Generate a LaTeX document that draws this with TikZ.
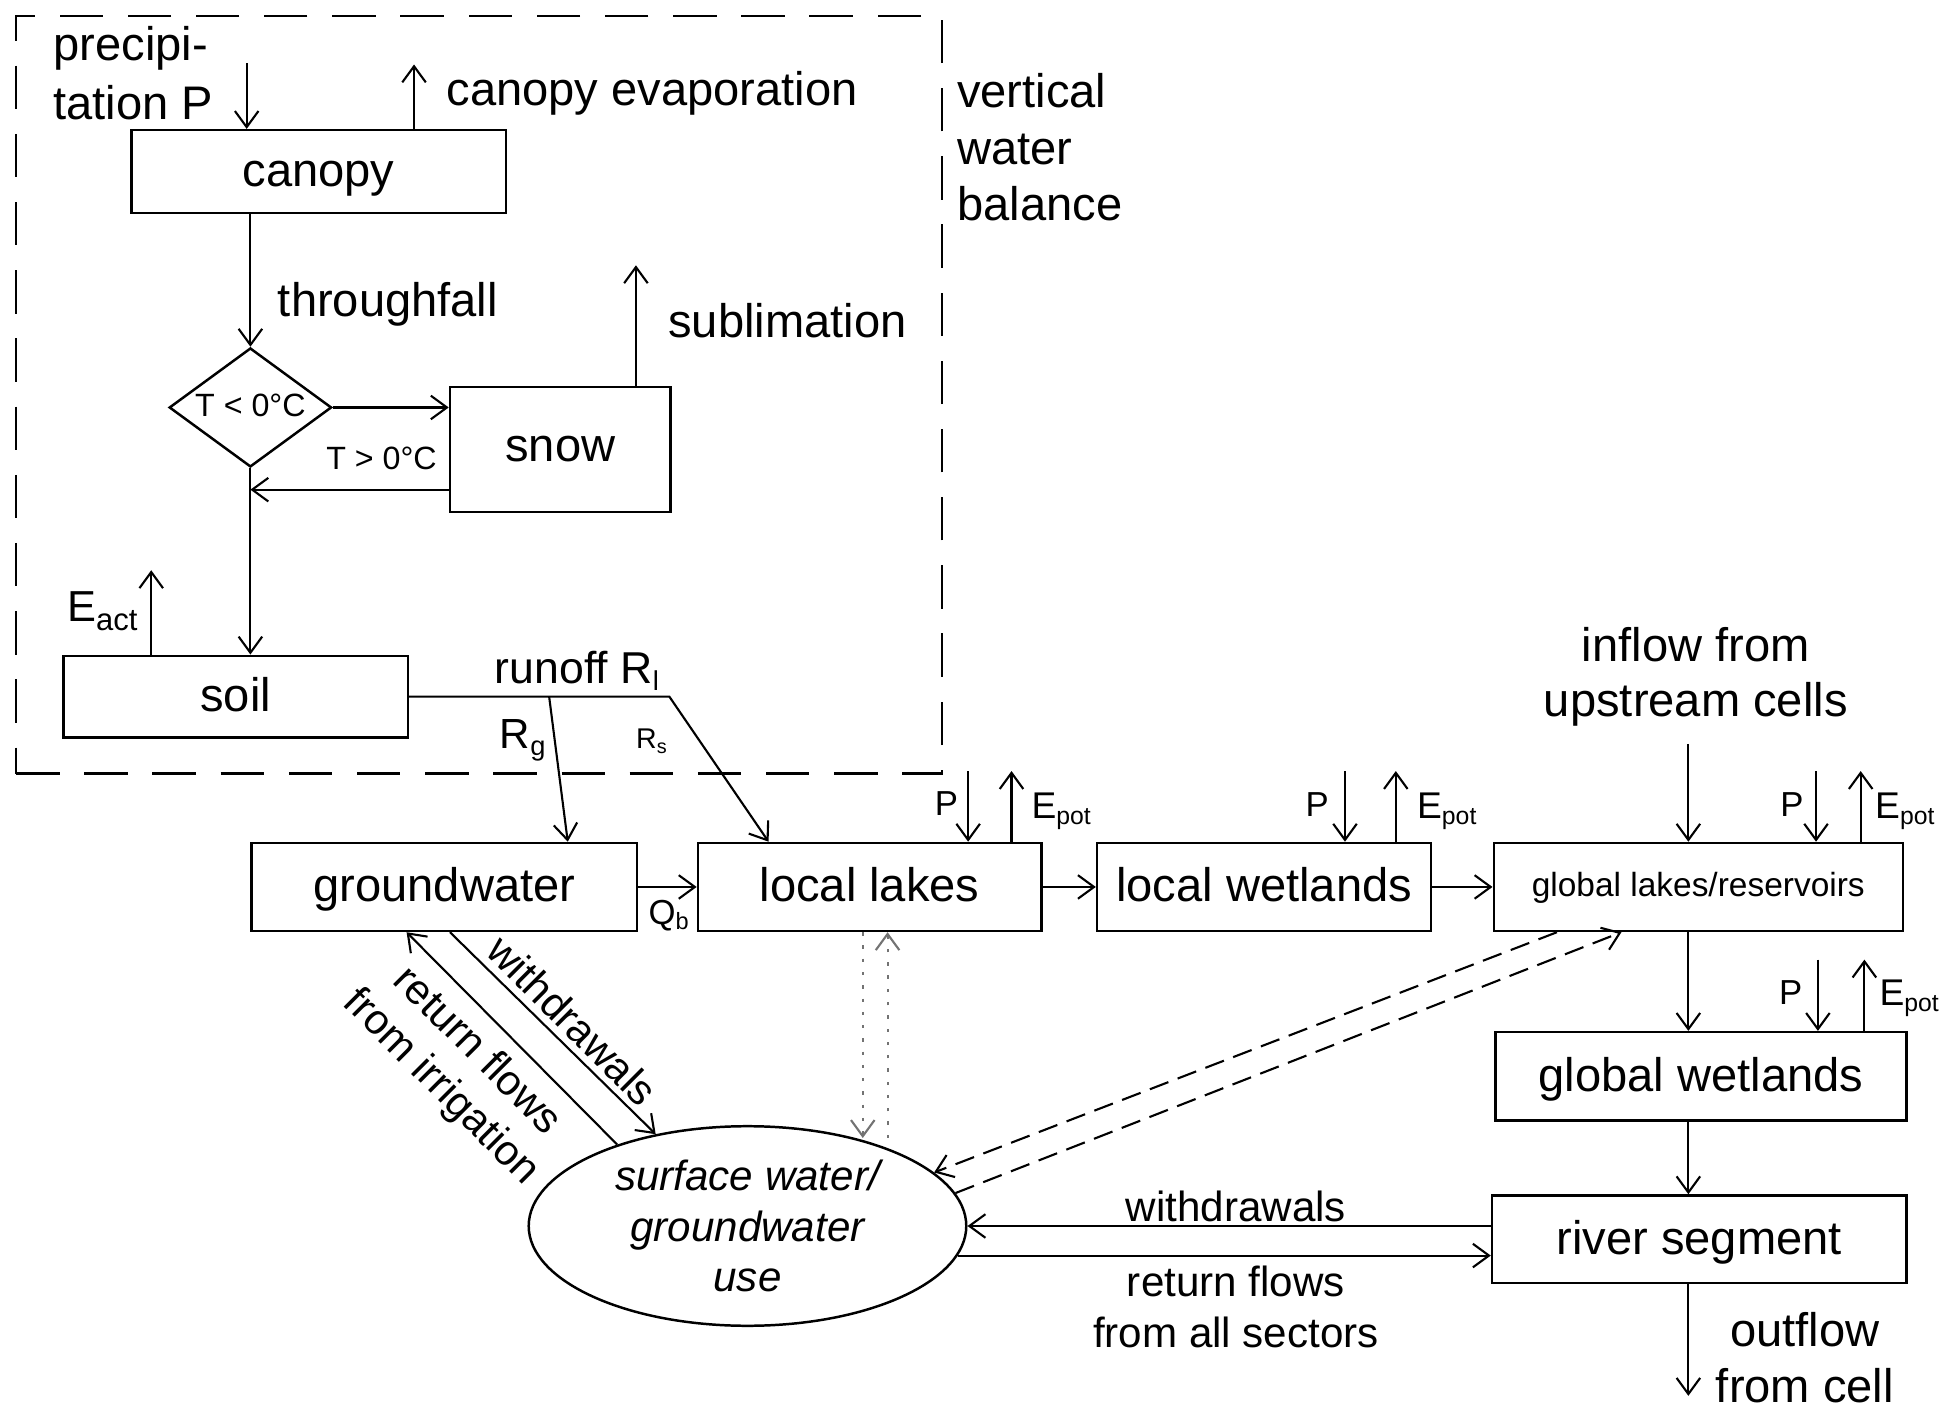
\documentclass[tikz,border=0pt]{standalone}
\usepackage{fontspec}
\setmainfont{Liberation Sans}
\usetikzlibrary{arrows.meta,calc,shapes.geometric}
\newcommand{\mysub}[3]{\raisebox{-#2pt}{\fontsize{#1}{#1}\selectfont #3}}
\begin{document}
\begin{tikzpicture}[x=1pt,y=-1pt,
  box/.style={draw,line width=2pt,inner sep=0pt,font=\fontsize{38}{46}\selectfont,text height=30pt,text depth=6pt},
  arr/.style={line width=1.7pt,-{Straight Barb[length=13pt,width=19pt]}},
  dasharr/.style={arr,dash pattern=on 16pt off 8pt},
  dotarr/.style={arr,draw=black!55,dash pattern=on 2.7pt off 8pt},
  t38/.style={inner sep=0pt,font=\fontsize{38}{46}\selectfont},
  t36/.style={inner sep=0pt,font=\fontsize{36}{42}\selectfont},
  t34/.style={inner sep=0pt,font=\fontsize{34}{41}\selectfont},
  t30/.style={inner sep=0pt,font=\fontsize{30}{36}\selectfont},
  t28/.style={inner sep=0pt,font=\fontsize{28}{34}\selectfont},
  t26/.style={inner sep=0pt,font=\fontsize{26}{31}\selectfont},
  t23/.style={inner sep=0pt,font=\fontsize{23}{28}\selectfont}]
\useasboundingbox (0,0) rectangle (1565,1136);

% frame of the vertical water balance
\node[draw,line width=2.2pt,dash pattern=on 35pt off 20pt,minimum width=747pt,minimum height=611pt,inner sep=0pt] (vwb) at (386.5,318.5) {};

% boxes
\node[box,minimum width=302pt,minimum height=67pt] (cp) at (257,138.5) {canopy};
\node[draw,diamond,aspect=1.36,line width=2pt,minimum width=131pt,minimum height=96pt,inner sep=0pt,font=\fontsize{26}{30}\selectfont,text height=20pt,text depth=6pt] (dia) at (202,328.7) {T < 0°C};
\node[box,minimum width=178pt,minimum height=101pt,text height=28pt,text depth=8pt] (sn) at (452,362.5) {snow};
\node[box,minimum width=277.6pt,minimum height=66pt] (soil) at (190.2,562) {soil};
\node[box,minimum width=311pt,minimum height=71pt] (gw) at (358.5,715.5) {groundwater};
\node[box,minimum width=277pt,minimum height=71pt] (ll) at (701.5,715.5) {local lakes};
\node[box,minimum width=269.5pt,minimum height=71pt] (lw) at (1019.75,715.5) {local wetlands};
\node[box,minimum width=330pt,minimum height=71pt,font=\fontsize{27}{32}\selectfont,text height=21pt,text depth=5pt] (gl) at (1370,715.5) {global lakes/reservoirs};
\node[box,minimum width=331.5pt,minimum height=71.4pt] (gwl) at (1372.25,868.3) {global wetlands};
\node[box,minimum width=334.4pt,minimum height=70.6pt] (riv) at (1370.8,999.7) {river segment};
\node[draw,ellipse,line width=2pt,minimum width=353pt,minimum height=161pt,inner sep=0pt,align=center,font=\fontsize{34}{41}\selectfont\itshape] (e) at (603,989) {surface water/\\groundwater\\use};

% vertical water balance arrows
\coordinate (pTop) at (199,51);
\draw[arr] (pTop) -- (pTop |- cp.north);
\coordinate (ceTop) at (334,52);
\draw[arr] (ceTop |- cp.north) -- (ceTop);
\draw[arr] (dia.north |- cp.south) -- (dia.north);
\draw[arr] (dia.east) -- (dia.east -| sn.west);
\coordinate (snB) at ($(sn.south west)+(0,-19)$);
\draw[arr] (snB) -- (snB -| dia.south);
\coordinate (sbTop) at (513,214);
\draw[arr] (sbTop |- sn.north) -- (sbTop);
\draw[arr] (dia.south) -- (dia.south |- soil.north);
\coordinate (eaTop) at (122,460);
\draw[arr] (eaTop |- soil.north) -- (eaTop);

% runoff
\coordinate (rj) at (443,562);
\coordinate (rk) at (540,562);
\draw[arr] (soil.east) -- (rk) -- ($(ll.north west)+(58,0)$);
\draw[arr] (rj) -- ($(gw.north west)+(256,0)$);

% horizontal flow chain
\draw[arr] (gw.east) -- (ll.west);
\draw[arr] (ll.east) -- (lw.west);
\draw[arr] (lw.east) -- (gl.west);

% P and Epot arrows
\draw[arr] ($(ll.north west)+(219,-57)$) -- ($(ll.north west)+(219,0)$);
\draw[arr] ($(ll.north west)+(254,0)$) -- ($(ll.north west)+(254,-57)$);
\draw[arr] ($(lw.north west)+(201,-57)$) -- ($(lw.north west)+(201,0)$);
\draw[arr] ($(lw.north west)+(242,0)$) -- ($(lw.north west)+(242,-57)$);
\draw[arr] ($(gl.north west)+(261,-57)$) -- ($(gl.north west)+(261,0)$);
\draw[arr] ($(gl.north west)+(297,0)$) -- ($(gl.north west)+(297,-57)$);
\draw[arr] ($(gwl.north west)+(261,-57.5)$) -- ($(gwl.north west)+(261,0)$);
\draw[arr] ($(gwl.north west)+(298.5,0)$) -- ($(gwl.north west)+(298.5,-57.5)$);

% river chain
\coordinate (inTop) at (1362,600);
\draw[arr] (inTop) -- (inTop |- gl.north);
\draw[arr] (inTop |- gl.south) -- (inTop |- gwl.north);
\draw[arr] (inTop |- gwl.south) -- (inTop |- riv.north);
\coordinate (outBot) at (1362,1126);
\draw[arr] (outBot |- riv.south) -- (outBot);

% water use
\draw[arr] ($(gw.south west)+(161,0)$) -- (e.135.4);
\draw[arr] (e.148.7) -- ($(gw.south west)+(126,0)$);
\coordinate (d1) at (696,918);
\coordinate (d2) at (716,918);
\draw[dotarr] (d1 |- ll.south) -- (d1);
\draw[dotarr] (d2) -- (d2 |- ll.south);
\draw[dasharr] ($(gl.south west)+(52,0)$) -- (e.16.7);
\draw[dasharr] (e.9.7) -- ($(gl.south west)+(104,0)$);
\draw[arr] (e.east -| riv.west) -- (e.east);
\draw[arr] (e.-8.5) -- (e.-8.5 -| riv.west);

% labels
\node[t38,anchor=base west] (pr1) at (43,49) {precipi-};
\node[t38,anchor=base west] (pr2) at (43,96) {tation P};
\node[t38,anchor=base west] (cev) at (360,85) {canopy evaporation};
\node[t38,anchor=base west] (vt1) at (772,87) {vertical};
\node[t38,anchor=base west] (vt2) at (772,133) {water};
\node[t38,anchor=base west] (vt3) at (772,178) {balance};
\node[t38,anchor=base west] (thr) at (224,255) {throughfall};
\node[t38,anchor=base west] (sub) at (539,272) {sublimation};
\node[t26,anchor=base west] (tgt) at (263,379) {T > 0°C};
\node[inner sep=0pt,font=\fontsize{35}{40}\selectfont,anchor=base west] (eact) at (54,501.5) {E\mysub{25}{7}{act}};
\node[t36,anchor=base west] (ro) at (399,551) {runoff R\mysub{22}{6}{l}};
\node[inner sep=0pt,font=\fontsize{34}{40}\selectfont,anchor=base west] (rg) at (403,603.6) {R\mysub{22}{6}{g}};
\node[t23,anchor=base west] (rs) at (513,603.6) {R\mysub{16}{4}{s}};
\node[t28,anchor=base west] (qb) at (523,746) {Q\mysub{19}{4}{b}};

\node[t28,anchor=base west] (pll) at (754,658) {P};
\node[t30,anchor=base west] (ell) at (832,660) {E\mysub{20}{5}{pot}};
\node[t28,anchor=base west] (plw) at (1053,659) {P};
\node[t30,anchor=base west] (elw) at (1143,660) {E\mysub{20}{5}{pot}};
\node[t28,anchor=base west] (pgl) at (1436,659) {P};
\node[t30,anchor=base west] (egl) at (1512.5,660) {E\mysub{20}{5}{pot}};
\node[t28,anchor=base west] (pgw) at (1435,810) {P};
\node[t30,anchor=base west] (egw) at (1516,811) {E\mysub{20}{5}{pot}};

\node[t38,anchor=base] (in1) at (1368,534) {inflow from};
\node[t38,anchor=base] (in2) at (1368,578) {upstream cells};
\node[t38,anchor=base] (of1) at (1456,1086) {outflow};
\node[t38,anchor=base] (of2) at (1456,1131) {from cell};

\node[t34,anchor=base] (wdr) at (997,985) {withdrawals};
\node[t34,anchor=base] (rf1) at (997,1045.6) {return flows};
\node[t34,anchor=base] (rf2) at (997,1086.7) {from all sectors};

\node[t34,rotate=-45] (wdl) at (462,823) {withdrawals};
\node[t34,rotate=-45,align=center] (rfl) at (370,863) {return flows\\from irrigation};
\end{tikzpicture}
\end{document}
